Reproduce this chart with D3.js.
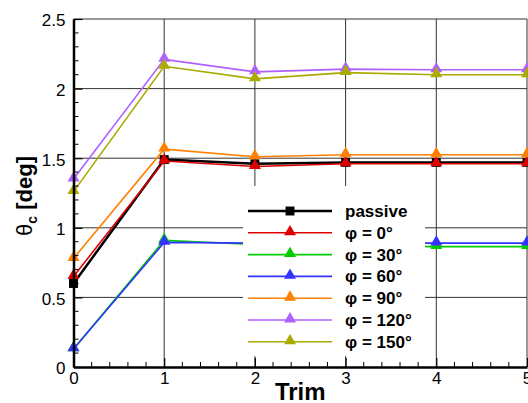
<!DOCTYPE html>
<html lang="en">
<head>
    <meta charset="UTF-8">
    <title>Theta_c vs Trim</title>
    <script src="https://d3js.org/d3.v7.min.js"></script>
    <style>
        body { margin: 0; padding: 0; background: white; }
        svg { display: block; font-family: "Liberation Sans", Arial, sans-serif; }
    </style>
</head>
<body>
    <div id="wrapper"></div>
    <script>
        // data
        const trim = [0, 1, 2, 3, 4, 5]
        const passive = [0.60, 1.49, 1.46, 1.47, 1.47, 1.47]
        const phi0 = [0.65, 1.48, 1.44, 1.46, 1.46, 1.46]
        const phi30 = [0.13, 0.91, 0.88, 0.87, 0.865, 0.865]
        const phi60 = [0.13, 0.895, 0.89, 0.89, 0.89, 0.89]
        const phi90 = [0.78, 1.565, 1.51, 1.525, 1.525, 1.525]
        const phi120 = [1.35, 2.21, 2.12, 2.14, 2.135, 2.135]
        const phi150 = [1.26, 2.16, 2.07, 2.115, 2.10, 2.10]
        const seriesNames = ["passive", "φ = 0°", "φ = 30°", "φ = 60°", "φ = 90°", "φ = 120°", "φ = 150°"]

        const series = [
            { name: seriesNames[0], values: passive, color: "#000000", marker: "square", width: 2.5 },
            { name: seriesNames[1], values: phi0, color: "#dd0000", marker: "triangle", width: 1.6 },
            { name: seriesNames[2], values: phi30, color: "#00cc00", marker: "triangle", width: 1.6 },
            { name: seriesNames[3], values: phi60, color: "#3333ff", marker: "triangle", width: 1.6 },
            { name: seriesNames[4], values: phi90, color: "#ff8000", marker: "triangle", width: 1.6 },
            { name: seriesNames[5], values: phi120, color: "#b060ff", marker: "triangle", width: 1.6 },
            { name: seriesNames[6], values: phi150, color: "#aaaa00", marker: "triangle", width: 1.6 },
        ]

        const width = 528, height = 403
        const margin = { top: 19, right: 1, bottom: 36, left: 73.5 }

        const svg = d3.select("#wrapper").append("svg")
            .attr("width", width)
            .attr("height", height)

        const xScale = d3.scaleLinear().domain([0, 5]).range([margin.left, width - margin.right])
        const yScale = d3.scaleLinear().domain([0, 2.5]).range([height - margin.bottom, margin.top])

        // grid
        const grid = svg.append("g").attr("stroke", "#333").attr("stroke-width", 1)
        grid.selectAll(".vg").data([1, 2, 3, 4, 5]).join("line")
            .attr("x1", d => xScale(d)).attr("x2", d => xScale(d))
            .attr("y1", yScale(0)).attr("y2", yScale(2.5))
        grid.selectAll(".hg").data([0.5, 1, 1.5, 2, 2.5]).join("line")
            .attr("x1", xScale(0)).attr("x2", xScale(5))
            .attr("y1", d => yScale(d)).attr("y2", d => yScale(d))

        // lines and markers
        const lineGen = d3.line()
            .x((d, i) => xScale(trim[i]))
            .y(d => yScale(d))

        const tri = d3.symbol().type(d3.symbolTriangle).size(62)
        const sq = d3.symbol().type(d3.symbolSquare).size(80)

        series.forEach(s => {
            svg.append("path")
                .attr("d", lineGen(s.values))
                .attr("fill", "none")
                .attr("stroke", s.color)
                .attr("stroke-width", s.width)
            svg.append("g").selectAll("path").data(s.values).join("path")
                .attr("d", s.marker === "square" ? sq() : tri())
                .attr("transform", (d, i) => `translate(${xScale(trim[i])},${yScale(d) - (s.marker === "square" ? 0 : 1)})`)
                .attr("fill", s.color)
        })

        // legend box covers the grid and lines behind it
        const legend = svg.append("g")
        legend.append("rect")
            .attr("x", 243).attr("y", 186)
            .attr("width", 182).attr("height", 170)
            .attr("fill", "white")

        series.forEach((s, i) => {
            const y = 211 + i * 21.8
            const row = legend.append("g").attr("transform", `translate(0,${y})`)
            row.append("line")
                .attr("x1", 248).attr("x2", 332)
                .attr("stroke", s.color)
                .attr("stroke-width", s.width)
            row.append("path")
                .attr("d", s.marker === "square" ? sq() : tri())
                .attr("transform", `translate(290,${s.marker === "square" ? 0 : -1})`)
                .attr("fill", s.color)
            row.append("text")
                .attr("x", 345).attr("y", 6)
                .attr("font-size", 17)
                .attr("font-weight", "bold")
                .text(s.name)
        })

        // axes
        const xAxis = svg.append("g")
            .attr("transform", `translate(0,${yScale(0)})`)
            .call(d3.axisBottom(xScale).tickValues(trim).tickSizeInner(-9).tickSizeOuter(0).tickPadding(5).tickFormat(d3.format("d")))
        xAxis.append("g").selectAll("line")
            .data(d3.range(0, 5.01, 0.2).filter(v => Math.abs(v - Math.round(v)) > 0.01))
            .join("line")
            .attr("x1", d => xScale(d)).attr("x2", d => xScale(d))
            .attr("y1", 0).attr("y2", -5)
            .attr("stroke", "black")

        const yAxis = svg.append("g")
            .attr("transform", `translate(${xScale(0)},0)`)
            .call(d3.axisLeft(yScale).tickValues([0, 0.5, 1, 1.5, 2, 2.5]).tickSizeInner(-9).tickSizeOuter(0).tickPadding(8).tickFormat(d => d3.format("")(d)))
        yAxis.append("g").selectAll("line")
            .data(d3.range(0, 2.51, 0.1).filter(v => Math.abs(v * 2 - Math.round(v * 2)) > 0.01))
            .join("line")
            .attr("x1", 0).attr("x2", 5)
            .attr("y1", d => yScale(d)).attr("y2", d => yScale(d))
            .attr("stroke", "black")

        xAxis.select(".domain").attr("stroke-width", 2.5)
        yAxis.select(".domain").attr("stroke-width", 2.5)
        svg.selectAll(".tick line").attr("stroke-width", 1.2)
        svg.selectAll(".tick text")
            .attr("font-size", 17)
            .attr("font-family", "Liberation Sans, Arial, sans-serif")
            .attr("fill", "black")
        yAxis.selectAll(".tick text").attr("dy", "0.4em")

        // axis titles
        svg.append("text")
            .attr("x", (xScale(0) + xScale(5)) / 2)
            .attr("y", 400)
            .attr("text-anchor", "middle")
            .attr("font-size", 24)
            .attr("font-weight", "bold")
            .text("Trim")

        const yTitle = svg.append("text")
            .attr("transform", "translate(32,196) rotate(-90)")
            .attr("text-anchor", "middle")
            .attr("font-size", 22)
            .attr("font-weight", "bold")
        yTitle.append("tspan").attr("font-weight", "normal").text("θ")
        yTitle.append("tspan").attr("font-size", 14).attr("dy", 5).text("c")
        yTitle.append("tspan").attr("dy", -5).text(" [deg]")
    </script>
</body>
</html>
